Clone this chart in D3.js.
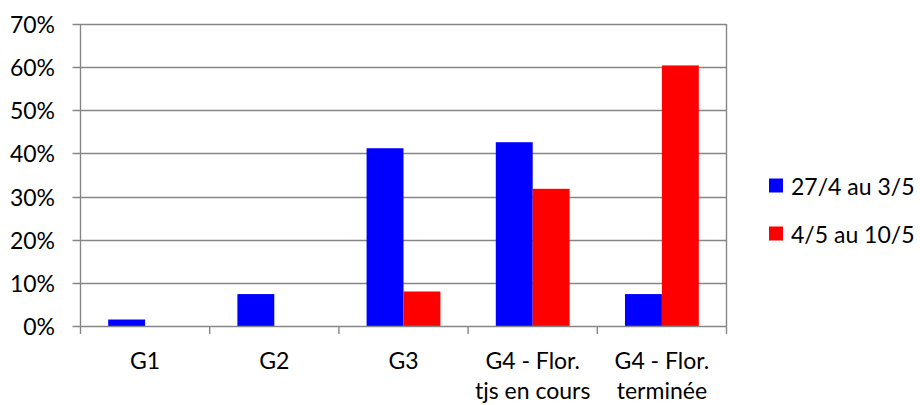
<!DOCTYPE html>
<html>
<head>
<meta charset="utf-8">
<script src="https://cdn.jsdelivr.net/npm/d3@7"></script>
<style>
  html, body { margin: 0; padding: 0; background: #fff; }
  svg { display: block; }
  text { font-family: Lato, "Open Sans", sans-serif; fill: #000; }
</style>
</head>
<body>
<svg id="chart" width="920" height="405"></svg>
<script>
const categories = [["G1"], ["G2"], ["G3"], ["G4 - Flor.", "tjs en cours"], ["G4 - Flor.", "terminée"]];
const seriesNames = ["27/4 au 3/5", "4/5 au 10/5"];
const series1 = [0.015, 0.074, 0.412, 0.426, 0.074];
const series2 = [0, 0, 0.080, 0.318, 0.604];
const yTicks = [0, 0.1, 0.2, 0.3, 0.4, 0.5, 0.6, 0.7];
const colors = ["#0000FF", "#FF0000"];

(function () {
const svg = d3.select("#chart");
const pL = 80.5, pR = 726.5, pT = 24, pB = 326;
const axisColor = "#868686";
const fontSize = 23;

const x = d3.scaleBand().domain(d3.range(categories.length)).range([pL, pR]).paddingInner(0).paddingOuter(0);
const y = d3.scaleLinear().domain([0, 0.7]).range([pB, pT]);
const gap = 1.5;
const barW = x.bandwidth() / (2 + gap);
const x1 = d3.scaleBand().domain([0, 1]).range([0, 2 * barW]);

// gridlines
svg.append("g").selectAll("line").data(yTicks.filter(d => d > 0)).join("line")
  .attr("x1", pL - 8).attr("x2", pR)
  .attr("y1", d => Math.round(y(d)) + 0.5).attr("y2", d => Math.round(y(d)) + 0.5)
  .attr("stroke", axisColor).attr("stroke-width", 1.4);

// bars
const data = [];
categories.forEach((c, i) => {
  [series1, series2].forEach((s, j) => data.push({ i, j, v: s[i] }));
});
svg.append("g").selectAll("rect").data(data.filter(d => d.v > 0)).join("rect")
  .attr("x", d => x(d.i) + x.bandwidth() / 2 - barW + x1(d.j))
  .attr("width", barW)
  .attr("y", d => y(d.v))
  .attr("height", d => y(0) - y(d.v))
  .attr("fill", d => colors[d.j]);

// axes lines
const g = svg.append("g").attr("stroke", axisColor).attr("stroke-width", 1.4);
g.append("line").attr("x1", pL).attr("x2", pL).attr("y1", pT).attr("y2", pB + 8);
g.append("line").attr("x1", pR).attr("x2", pR).attr("y1", pT).attr("y2", pB + 8);
g.append("line").attr("x1", pL - 8).attr("x2", pR).attr("y1", pB + 0.5).attr("y2", pB + 0.5);
g.selectAll(".ct").data(d3.range(1, categories.length)).join("line")
  .attr("x1", d => x(d)).attr("x2", d => x(d))
  .attr("y1", pB).attr("y2", pB + 8);

// y labels
svg.append("g").selectAll("text").data(yTicks).join("text")
  .attr("x", 55).attr("y", d => y(d))
  .attr("text-anchor", "end").attr("dominant-baseline", "central")
  .style("font-size", fontSize + "px")
  .text(d => d3.format(".0%")(d));

// category labels
const cl = svg.append("g").selectAll("text").data(categories).join("text")
  .attr("text-anchor", "middle")
  .style("font-size", fontSize + "px")
  .attr("x", (d, i) => x(i) + x.bandwidth() / 2)
  .attr("y", 369);
cl.selectAll("tspan").data(d => d).join("tspan")
  .attr("x", function () { return this.parentNode.getAttribute("x"); })
  .attr("dy", (d, k) => k === 0 ? 0 : 30)
  .text(d => d);

// legend
const lg = svg.append("g").selectAll("g").data(seriesNames).join("g")
  .attr("transform", (d, i) => `translate(769,${185.5 + i * 48})`);
lg.append("rect").attr("x", 0).attr("y", -7).attr("width", 14).attr("height", 14)
  .attr("fill", (d, i) => colors[i]);
lg.append("text").attr("x", 22).attr("y", 0).attr("dominant-baseline", "central")
  .style("font-size", fontSize + "px").text(d => d);
})();
</script>
</body>
</html>
